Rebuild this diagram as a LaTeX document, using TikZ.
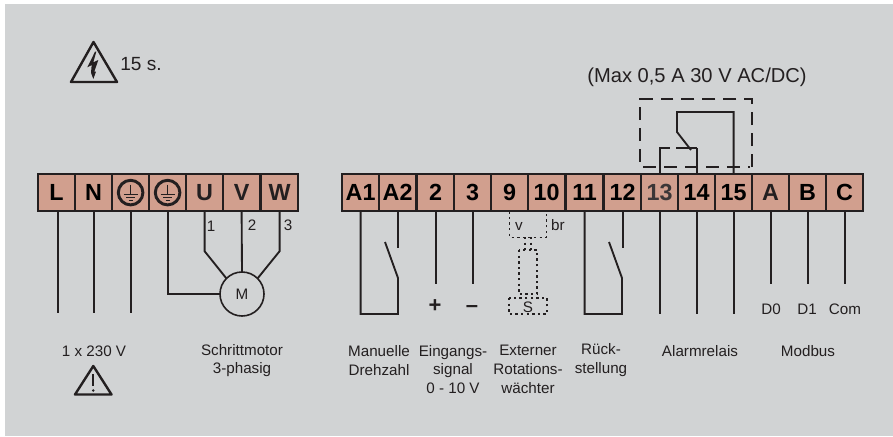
\documentclass[tikz,border=0pt]{standalone}
\usepackage{fontspec}
\setmainfont{Liberation Sans}
\usetikzlibrary{calc}
\definecolor{panel}{HTML}{D1D3D4}
\definecolor{term}{HTML}{D19F8E}
\definecolor{ink}{HTML}{231F20}
\definecolor{soft}{HTML}{3A3637}
\tikzset{
  x=0.75pt,y=-0.75pt,
  termbox/.style={draw=ink,line width=1.5pt,fill=term,outer sep=0pt,minimum width=27.9pt,minimum height=27.9pt,inner sep=0pt,anchor=north west,font=\fontsize{17.5pt}{19pt}\selectfont\bfseries,text=black},
  wire/.style={draw=ink,line width=1.4pt},
  dots/.style={draw=ink,line width=1pt,dash pattern=on 1.8pt off 2.4pt},
  dash box/.style={draw=ink,line width=1.2pt,dash pattern=on 9.7pt off 6pt},
  lab/.style={font=\fontsize{11.4pt}{14pt}\selectfont,text=ink,align=center,inner sep=0pt},
  small/.style={font=\fontsize{11.4pt}{13pt}\selectfont,text=ink,inner sep=0pt},
  big/.style={font=\fontsize{15.1pt}{17pt}\selectfont,text=ink,inner sep=0pt},
  signmark/.style={font=\fontsize{16.5pt}{17pt}\selectfont\bfseries,text=ink,inner sep=0pt},
}
\newcommand{\groundsym}[1]{%
  \draw[ink,line width=2.2pt] (#1) circle (12.3);
  \draw[ink,line width=0.9pt] ($(#1)+(0,-8)$) -- ($(#1)+(0,2)$)
    ($(#1)+(-7,2)$) -- ($(#1)+(7,2)$)
    ($(#1)+(-4.5,5)$) -- ($(#1)+(4.5,5)$)
    ($(#1)+(-2,8)$) -- ($(#1)+(2,8)$);
}
\begin{document}
\begin{tikzpicture}
\useasboundingbox (0,0) rectangle (893,436);
\fill[white] (0,0) rectangle (893,436);
\fill[panel] (5,4) rectangle (893,436);
% hazard triangle
\draw[ink,line width=1.8pt,line join=round] (93.5,42) -- (117,82) -- (71,82) -- cycle;
\fill[ink] (95,51.7) -- (87.3,67.3) -- (91.7,65) -- (91,72.7) -- (93.3,79) -- (96,71.7) -- (94.3,71.7) -- (98.3,60) -- (93.3,62.3) -- (96.3,51.7) -- cycle;
\node[big,font=\fontsize{14.3pt}{16pt}\selectfont,anchor=west] (t15) at (120,64) {15 s.};
\node[big] (tmax) at (697,77) {(Max 0,5 A 30 V AC/DC)};
% terminals left
\foreach \n/\x/\t in {L/38/L,N/75/N,PEa/112/{},PEb/149/{},U/186/\textcolor{ink}{U},V/223/\textcolor{ink}{V},W/261/\textcolor{ink}{W}}
  \node[termbox] (\n) at (\x,174) {\t};
% terminals right
\foreach \n/\x/\t in {Aa/342/A1,Ab/379/A2,two/417/2,three/454/3,nine/491/9,ten/528/10,eleven/566/11,twelve/604/12,thirteen/641/\textcolor{soft}{13},fourteen/678/14,fifteen/715/15,Ar/752/\textcolor{ink}{A},Br/789/B,Cr/826/C}
  \node[termbox] (\n) at (\x,174) {\t};
\groundsym{PEa.center}
\groundsym{PEb.center}
% mains wires
\draw[wire] ($(L.south)+(1,0)$) -- ++(0,102);
\draw[wire] (N.south) -- ++(0,102);
\draw[wire] (PEa.south) -- ++(0,102);
% motor
\node[draw=ink,line width=1.2pt,circle,outer sep=0pt,minimum size=33pt,inner sep=0pt,font=\fontsize{11.4pt}{13pt}\selectfont,text=ink] (M) at (242,294) {M};
\draw[wire] (PEb.south) |- (M.west);
\draw[wire] (U.south) -- ++(0,40) -- (M.135);
\draw[wire] (V.south) -- (M.north);
\draw[wire] (W.south) -- ++(0,40) -- (M.45);
\node[small] (n1) at (211,226) {1};
\node[small] (n2) at (252,225) {2};
\node[small] (n3) at (288,225) {3};
\node[lab] (mains) at (94,351) {1 x 230 V};
\node[lab] (motor) at (242,360.5) {Schrittmotor\\3-phasig};
% warning triangle
\draw[ink,line width=1.8pt,line join=round] (93.3,366) -- (111.5,394.5) -- (75,394.5) -- cycle;
\draw[ink,line width=1.6pt] (93.3,374) -- (93.3,386);
\fill[ink] (93.3,390.5) circle (1.4);
% A1 A2 switch
\draw[wire] (Aa.south) |- (398,314) -- (398,278) -- (385,242);
\draw[wire] (Ab.south) -- ++(0,37);
\draw[wire] (two.south) -- ++(0,73);
\draw[wire] (three.south) -- ++(0,73);
\node[signmark] (plus) at (435,306) {+};
\node[signmark] (minus) at (472,309) {–};
% sensor
\draw[dots] (nine.south) -- ++(0,26) -| (ten.south);
\draw[dots] (525,237) -- (525,250) (531,237) -- (531,250);
\draw[dots] (519,250) rectangle (537,294);
\draw[dots] (509,298) rectangle (547,314);
\node[small] (v) at (519,226) {v};
\node[small] (br) at (558,225) {br};
\node[small] (S) at (528,307) {S};
% 11 12 switch
\draw[wire] (eleven.south) |- (622,314) -- (622,278) -- (609,242);
\draw[wire] (twelve.south) -- ++(0,37);
\draw[wire] (thirteen.south) -- ++(0,103);
\draw[wire] (fourteen.south) -- ++(0,103);
\draw[wire] (fifteen.south) -- ++(0,103);
\draw[wire] (Ar.south) -- ++(0,73);
\draw[wire] (Br.south) -- ++(0,73);
\draw[wire] (Cr.south) -- ++(0,73);
% relay
\draw[dash box] (752,167) -- (752,99) -- (640,99) -- (640,167) -- (750,167);
\draw[wire] (fifteen.north) |- (677,112) -- (677,132) -- (691,150);
\draw[wire] (thirteen.north) |- (670,148);
\draw[wire] (676,148) -- (696.6,148);
\draw[wire] (fourteen.north) -- ++(0,-26);
\node[lab] (lmd) at (379,360.5) {Manuelle\\Drehzahl};
\node[lab] (ein) at (453,369.5) {Eingangs-\\signal\\0 - 10 V};
\node[lab] (ext) at (528,369.5) {Externer\\Rotations-\\wächter};
\node[lab] (rue) at (601,360) {Rück-\\stellung};
\node[lab] (alarm) at (700,351) {Alarmrelais};
\node[lab] (mod) at (808,351) {Modbus};
\node[small] (d0) at (771,309) {D0};
\node[small] (d1) at (807,309) {D1};
\node[small] (com) at (845,309) {Com};
\end{tikzpicture}
\end{document}
